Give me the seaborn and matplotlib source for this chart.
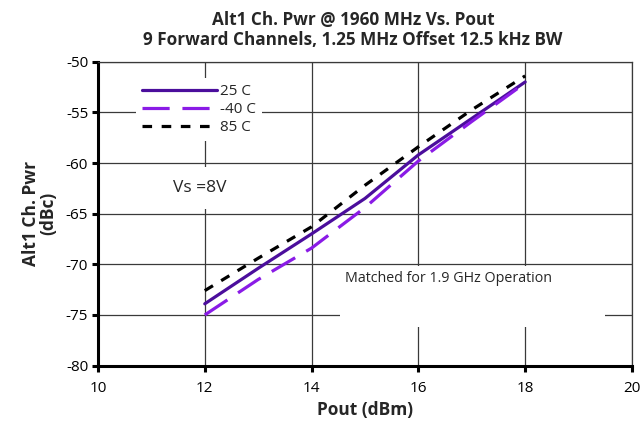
import numpy as np
import pandas as pd
import matplotlib
matplotlib.use("Agg")
import matplotlib.pyplot as plt
from matplotlib.patches import Rectangle
import seaborn as sns

# Data
pout = [12, 13, 14, 15, 16, 17, 18]
acp_25c = [-73.9, -70.4, -67.0, -63.5, -59.2, -55.6, -52.0]
acp_m40c = [-75.0, -71.5, -68.4, -64.4, -59.8, -55.9, -52.1]
acp_85c = [-72.6, -69.4, -66.3, -62.2, -58.4, -54.75, -51.4]
series_names = ["25 C", "-40 C", "85 C"]
x_ticks = [10, 12, 14, 16, 18, 20]
y_ticks = [-80, -75, -70, -65, -60, -55, -50]

sns.set_style("white")
plt.rcParams["font.family"] = ["Open Sans", "DejaVu Sans"]
plt.rcParams["axes.unicode_minus"] = False

df = pd.concat([
    pd.DataFrame({"Pout": pout, "ACP": vals, "Temp": name})
    for name, vals in zip(series_names, [acp_25c, acp_m40c, acp_85c])
], ignore_index=True)

palette = {"25 C": "#4B0E9C", "-40 C": "#8A1BE6", "85 C": "#000000"}
dashes = {"25 C": "", "-40 C": (8.5, 4), "85 C": (3, 3)}
grid_col = "#3a3a3a"

fig = plt.figure(figsize=(6.42, 4.25), dpi=100)
ax = fig.add_axes([0.1526, 0.1398, 0.8318, 0.715])

sns.lineplot(data=df, x="Pout", y="ACP", hue="Temp", style="Temp",
             palette=palette, dashes=dashes, hue_order=series_names,
             style_order=series_names, linewidth=2.3, ax=ax, legend=False)

ax.set_xlim(10, 20)
ax.set_ylim(-80, -50)
ax.set_xticks(x_ticks)
ax.set_yticks(y_ticks)
ax.set_axisbelow(True)
ax.grid(True, color=grid_col, linewidth=0.9)

for side in ["top", "right"]:
    ax.spines[side].set_visible(True)
    ax.spines[side].set_color(grid_col)
    ax.spines[side].set_linewidth(0.9)
for side in ["left", "bottom"]:
    ax.spines[side].set_color("black")
    ax.spines[side].set_linewidth(2.2)
ax.tick_params(axis="both", direction="out", length=4, width=2.2,
               labelsize=11, colors="black")
ax.tick_params(axis="x", pad=7)
ax.tick_params(axis="y", pad=3)
ax.tick_params(top=False, right=False, left=True, bottom=True)

ax.set_xlabel("Pout (dBm)", fontsize=12.5, fontweight="bold", labelpad=4)
ax.set_ylabel("Alt1 Ch. Pwr\n(dBc)", fontsize=12.5, fontweight="bold",
              labelpad=6, linespacing=1.0)

fig.text(0.55, 0.975, "Alt1 Ch. Pwr @ 1960 MHz Vs. Pout\n"
         "9 Forward Channels, 1.25 MHz Offset 12.5 kHz BW",
         ha="center", va="top", fontsize=12.3, fontweight="bold",
         linespacing=1.15)

# legend
handles = [plt.Line2D([], [], color=palette[n], linewidth=2.3,
                      dashes=dashes[n] if dashes[n] else (None, None),
                      linestyle="-") for n in series_names]
leg = ax.legend(handles, series_names, loc="upper left",
                bbox_to_anchor=(0.071, 0.946), borderaxespad=0,
                handlelength=4.9, handletextpad=0.2, labelspacing=0.2,
                fontsize=11, frameon=True, fancybox=False, borderpad=0.4)
leg.get_frame().set_facecolor("white")
leg.get_frame().set_edgecolor("none")
leg.get_frame().set_alpha(1)

ax.text(11.9, -62.5, "Vs =8V", ha="center", va="center", fontsize=12.5,
        bbox=dict(boxstyle="square,pad=0.75", fc="white", ec="none"), zorder=3)

ax.add_patch(Rectangle((14.54, -76.2), 4.96, 6.05, facecolor="white",
                       edgecolor="none", zorder=1))
ax.text(14.63, -71.45, "Matched for 1.9 GHz Operation", ha="left",
        va="center", fontsize=10.3, zorder=3)

fig.savefig("out.png", dpi=100)
